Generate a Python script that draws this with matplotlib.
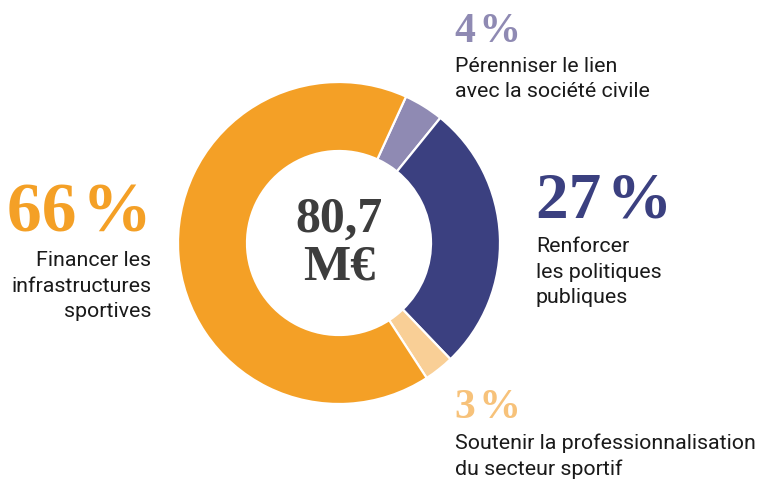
import matplotlib
matplotlib.use("Agg")
import matplotlib.pyplot as plt

# slices, clockwise from the top-right
labels = ["Pérenniser le lien\navec la société civile",
          "Renforcer\nles politiques\npubliques",
          "Soutenir la professionnalisation\ndu secteur sportif",
          "Financer les\ninfrastructures\nsportives"]
values = [4, 27, 3, 66]
colors = ["#8f8ab3", "#3b4080", "#f9cf96", "#f4a026"]
total = "80,7\nM€"

W, H = 760, 481
fig = plt.figure(figsize=(W / 100, H / 100), dpi=100)
ax = fig.add_axes([0, 0, 1, 1])


def Y(y):
    # picture coords (from top) -> axes coords
    return H - y


ax.pie(values, colors=colors, center=(339, Y(244)), radius=161,
       startangle=65.4, counterclock=False, frame=True,
       wedgeprops=dict(width=69, edgecolor="white", linewidth=1.6))
ax.set_xlim(0, W)
ax.set_ylim(0, H)
ax.axis("off")

serif = dict(family=["Liberation Serif", "DejaVu Serif"], weight="bold")
sans = dict(family="Roboto", fontsize=15.4, color="#1a1a1a", linespacing=1.42)


def pct(v):
    return f"{v}\u200a%"


ax.text(339, Y(244), total, ha="center", va="center", fontsize=36,
        color="#3d3d3d", linespacing=1.05, **serif)

# 4 %
ax.text(455, Y(42), pct(values[0]), ha="left", va="baseline",
        fontsize=30, color=colors[0], **serif)
ax.text(455, Y(97), labels[0], ha="left", va="baseline", **sans)

# 27 %
ax.text(536, Y(218), pct(values[1]), ha="left", va="baseline",
        fontsize=47, color=colors[1], **serif)
ax.text(536, Y(303), labels[1], ha="left", va="baseline", **sans)

# 3 %
ax.text(455, Y(418), pct(values[2]), ha="left", va="baseline",
        fontsize=30, color="#f7c27a", **serif)
ax.text(455, Y(475), labels[2], ha="left", va="baseline", **sans)

# 66 %
ax.text(152, Y(232), pct(values[3]), ha="right", va="baseline",
        fontsize=50, color=colors[3], **serif)
ax.text(151, Y(317), labels[3], ha="right", va="baseline",
        multialignment="right", **sans)

fig.savefig("out.png", dpi=100, facecolor="white")
